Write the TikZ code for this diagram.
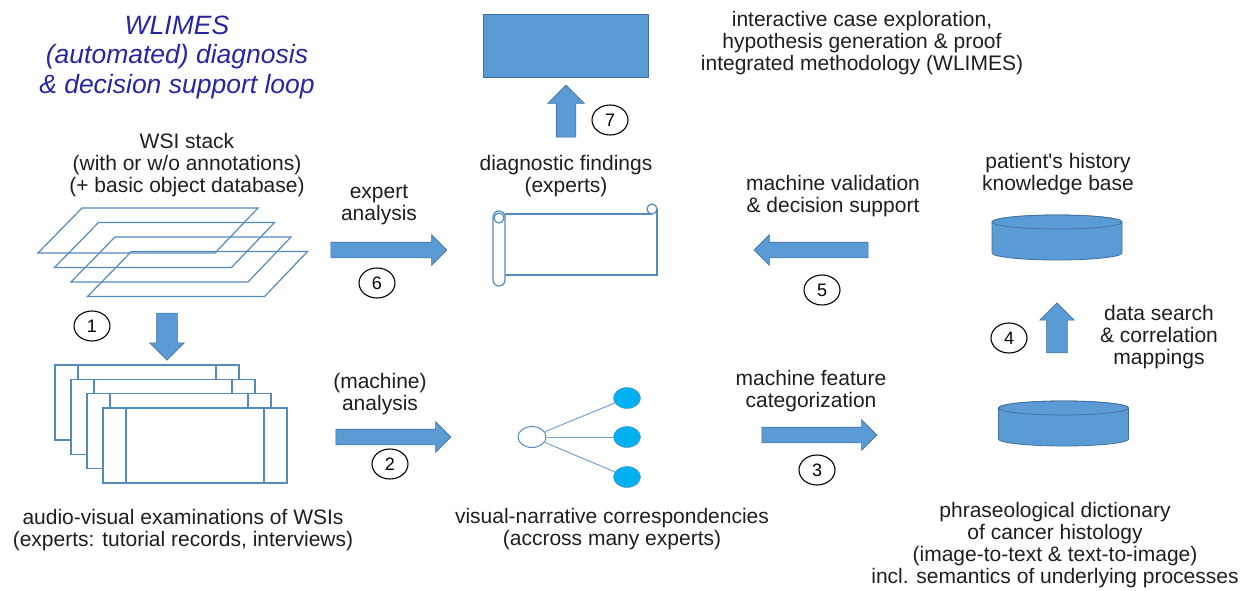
\documentclass[tikz,border=0pt]{standalone}
\usepackage{fontspec}
\setmainfont{Liberation Sans}
\usetikzlibrary{shapes.geometric,shapes.arrows}
\definecolor{boxblue}{RGB}{91,155,213}
\definecolor{edgeblue}{RGB}{65,113,156}
\definecolor{lineblue}{RGB}{84,139,191}
\definecolor{leafcyan}{RGB}{0,176,240}
\definecolor{titleblue}{RGB}{38,38,165}
\definecolor{textgray}{RGB}{30,30,30}
\begin{document}
\begin{tikzpicture}[x=1pt,y=-1pt,
  txt/.style={align=center,inner sep=0pt,text=textgray,font=\fontsize{21}{22}\selectfont},
  titletxt/.style={align=center,inner sep=0pt,text=titleblue,font=\fontsize{26.5}{29.5}\selectfont\itshape},
  num/.style={ellipse,draw=black,line width=1.1pt,minimum width=36pt,minimum height=30pt,inner sep=0pt,font=\fontsize{18}{18}\selectfont},
  bigarrow/.style={single arrow,draw=edgeblue,fill=boxblue,line width=.6pt,minimum width=0pt},
  slide/.style={draw=lineblue,line width=1.2pt},
  sheet/.style={draw=lineblue,fill=white,line width=1.6pt},
  scroll/.style={draw=lineblue,line width=1.2pt},
  leaf/.style={ellipse,draw=lineblue,fill=leafcyan,minimum width=27pt,minimum height=21pt,inner sep=0pt},
  twig/.style={draw=lineblue!80,line width=1pt},
  db/.style={draw=edgeblue,fill=boxblue,line width=.8pt}]
\useasboundingbox (0,0) rectangle (1245,590);
\node[titletxt] (title) at (177,57) {WLIMES\\(automated) diagnosis\\\& decision support loop};
\node[txt] (wsitxt) at (187,165) {WSI stack\\(with or w/o annotations)\\(+ basic object database)};
\foreach \i in {0,...,3}
  \draw[slide,shift={(16.5*\i,14.5*\i)}] (38,253) -- (215,253) -- (258,208) -- (82,208) -- cycle ;
\foreach \i in {0,...,3} {
  \filldraw[sheet,shift={(16*\i,14.3*\i)}] (55,365) rectangle (239,440) ;
  \draw[sheet,shift={(16*\i,14.3*\i)}] (78,365) -- (78,440) (216,365) -- (216,440) ;
}
\node[txt] (avtxt) at (183,530) {audio-visual examinations of WSIs\\(experts: tutorial records, interviews)};
\node[draw=edgeblue,fill=boxblue,line width=.5pt,minimum width=165pt,minimum height=63pt,inner sep=0pt] (wlimes) at (565.5,45.5) {};
\node[txt] (wltxt) at (862,43) {interactive case exploration,\\hypothesis generation \& proof\\integrated methodology (WLIMES)};
\node[txt] (findtxt) at (566,176) {diagnostic findings\\(experts)};
\draw[scroll] (505,214) -- (652,214) (657,209) -- (657,275) -- (505,275) ;
\draw[scroll,rounded corners=6pt] (493,211) rectangle (505,286) ;
\draw[scroll] (652,209) circle[radius=5] (499,218) circle[radius=5] ;
\node[ellipse,draw=lineblue,fill=white,line width=1pt,minimum width=28pt,minimum height=21pt,inner sep=0pt] (root) at (532,437) {};
\foreach \j/\y in {1/398,2/437,3/477} {
  \node[leaf] (leaf\j) at (627,\y) {};
  \draw[twig] (root) -- (leaf\j) ;
}
\node[txt] (vntxt) at (612,529) {visual-narrative correspondencies\\(accross many experts)};
\foreach \nm/\cx/\cy in {histdb/1057/222, dictdb/1063.5/408} {
  \filldraw[db] (\cx-65,\cy) -- (\cx-65,\cy+31) arc[start angle=180,end angle=0,x radius=65,y radius=7]
    -- (\cx+65,\cy) arc[start angle=0,end angle=-180,x radius=65,y radius=7] -- cycle ;
  \draw[db] (\cx,\cy) ellipse[x radius=65,y radius=7] ;
  \coordinate (\nm) at (\cx,\cy+15) ;
}
\node[txt] (histtxt) at (1058,174) {patient\textquotesingle s history\\knowledge base};
\node[txt] (dicttxt) at (1055,545) {phraseological dictionary\\of cancer histology\\(image-to-text \& text-to-image)\\incl. semantics of underlying processes};
\node[txt] (exptxt) at (379,205) {expert\\analysis};
\node[txt] (machtxt) at (380,394) {(machine)\\analysis};
\node[txt] (valtxt) at (833,196) {machine validation\\\& decision support};
\node[txt] (feattxt) at (811,391) {machine feature\\categorization};
\node[txt] (searchtxt) at (1159,337) {data search\\\& correlation\\mappings};
\foreach \n/\x/\y/\l/\r/\s/\h in {1/167/331.5/47/270/10/7, 2/389.5/437/115/0/7.5/7.5, 3/815.5/435/115/0/7.5/7.5,
    4/1057/333/50/90/10/7, 5/815/250/114/180/7.5/7.5, 6/385/250/116/0/7.5/7.5, 7/566/116/52/90/9.5/8.5}
  \node[bigarrow,minimum height=\l pt,shape border rotate=\r,inner sep=\s pt,single arrow head extend=\h pt] (arr\n) at (\x,\y) {} ;
\foreach \n/\x/\y in {1/92/326, 2/390/464, 3/817/470, 4/1009/338, 5/822/290, 6/377/283, 7/610/120}
  \node[num] (num\n) at (\x,\y) {\n} ;
\end{tikzpicture}
\end{document}
